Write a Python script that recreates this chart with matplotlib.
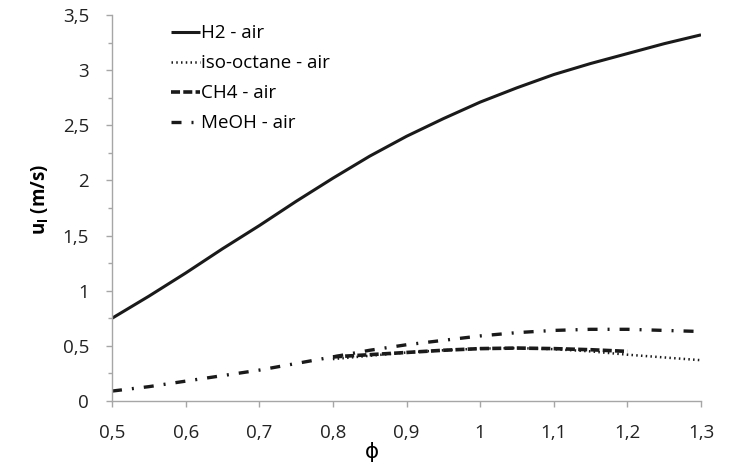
import matplotlib
matplotlib.use("Agg")
import matplotlib.pyplot as plt
from matplotlib.ticker import FixedLocator, FuncFormatter

plt.rcParams['font.family'] = ['Open Sans', 'DejaVu Sans']
plt.rcParams['mathtext.fontset'] = 'custom'
plt.rcParams['mathtext.bf'] = 'Open Sans:bold'
plt.rcParams['mathtext.rm'] = 'Open Sans'

# ---- data ----
phi_h2 = [0.5, 0.55, 0.6, 0.65, 0.7, 0.75, 0.8, 0.85, 0.9, 0.95, 1.0, 1.05, 1.1, 1.15, 1.2, 1.25, 1.3]
u_h2 = [0.75, 0.95, 1.16, 1.38, 1.59, 1.81, 2.02, 2.22, 2.40, 2.56, 2.71, 2.84, 2.96, 3.06, 3.15, 3.24, 3.32]

phi_iso = [0.8, 0.85, 0.9, 0.95, 1.0, 1.05, 1.1, 1.15, 1.2, 1.25, 1.3]
u_iso = [0.38, 0.41, 0.44, 0.46, 0.475, 0.48, 0.47, 0.45, 0.42, 0.395, 0.37]

phi_ch4 = [0.8, 0.85, 0.9, 0.95, 1.0, 1.05, 1.1, 1.15, 1.2]
u_ch4 = [0.40, 0.42, 0.44, 0.46, 0.475, 0.48, 0.475, 0.465, 0.45]

phi_meoh = [0.5, 0.55, 0.6, 0.65, 0.7, 0.75, 0.8, 0.85, 0.9, 0.95, 1.0, 1.05, 1.1, 1.15, 1.2, 1.25, 1.3]
u_meoh = [0.09, 0.13, 0.18, 0.23, 0.28, 0.34, 0.40, 0.46, 0.51, 0.55, 0.59, 0.62, 0.64, 0.65, 0.65, 0.64, 0.63]

labels = ["H2 - air", "iso-octane - air", "CH4 - air", "MeOH - air"]
x_ticks = [0.5, 0.6, 0.7, 0.8, 0.9, 1.0, 1.1, 1.2, 1.3]
y_ticks = [0, 0.5, 1.0, 1.5, 2.0, 2.5, 3.0, 3.5]
y_minor = [0.25, 0.75, 1.25, 1.75, 2.25, 2.75, 3.25]

W, H = 741, 466
fig = plt.figure(figsize=(W / 100, H / 100), dpi=100)
left, right, top, bottom = 112, 701, 15, 401
ax = fig.add_axes([left / W, 1 - bottom / H, (right - left) / W, (bottom - top) / H])

c = '#1a1a1a'
ax.plot(phi_h2, u_h2, color=c, lw=2.2, linestyle='-', label=labels[0],
        solid_joinstyle='round', solid_capstyle='butt')
ax.plot(phi_iso, u_iso, color=c, lw=1.8, linestyle=(0, (0.6, 1.3)), label=labels[1])
ax.plot(phi_ch4, u_ch4, color=c, lw=2.6, linestyle=(0, (2.5, 0.9)), label=labels[2])
ax.plot(phi_meoh, u_meoh, color=c, lw=2.4, linestyle=(0, (3.0, 3.0, 0.6, 3.0)), label=labels[3])

ax.set_xlim(0.5, 1.3)
ax.set_ylim(0, 3.5)

def fmt(v, pos):
    s = ('%.2f' % v).rstrip('0').rstrip('.')
    return s.replace('.', ',')

ax.xaxis.set_major_locator(FixedLocator(x_ticks))
ax.yaxis.set_major_locator(FixedLocator(y_ticks))
ax.yaxis.set_minor_locator(FixedLocator(y_minor))
ax.xaxis.set_major_formatter(FuncFormatter(fmt))
ax.yaxis.set_major_formatter(FuncFormatter(fmt))

grey = '#a6a6a6'
for s in ['top', 'right']:
    ax.spines[s].set_visible(False)
for s in ['left', 'bottom']:
    ax.spines[s].set_color(grey)
    ax.spines[s].set_linewidth(1.0)

ax.tick_params(axis='both', which='major', direction='out', length=4, width=1.0,
               color=grey, labelsize=13.5, labelcolor='#222222')
ax.tick_params(axis='y', which='minor', direction='out', length=2.8, width=1.0, color=grey)
ax.tick_params(axis='x', which='major', pad=12.3)
ax.tick_params(axis='y', which='major', pad=12.5)

ax.set_ylabel(r'$\mathbf{u_l}$ (m/s)', fontsize=13.5, fontweight='bold')
ax.yaxis.label.set_va('center')
ax.yaxis.set_label_coords((40 - left) / (right - left), (bottom - 199) / (bottom - top))

ax.set_xlabel('ϕ', fontsize=15.5, family=['DejaVu Sans'])
ax.xaxis.label.set_va('center')
ax.xaxis.set_label_coords((372 - left) / (right - left), (bottom - 452) / (bottom - top))

leg = ax.legend(loc='upper left', bbox_to_anchor=(171 / W, 1 - 24.5 / H),
                bbox_transform=fig.transFigure, frameon=False, fontsize=13.5,
                handlelength=1.55, handletextpad=0.05, labelspacing=0.64,
                borderpad=0, borderaxespad=0)

fig.savefig('out.png', dpi=100)
